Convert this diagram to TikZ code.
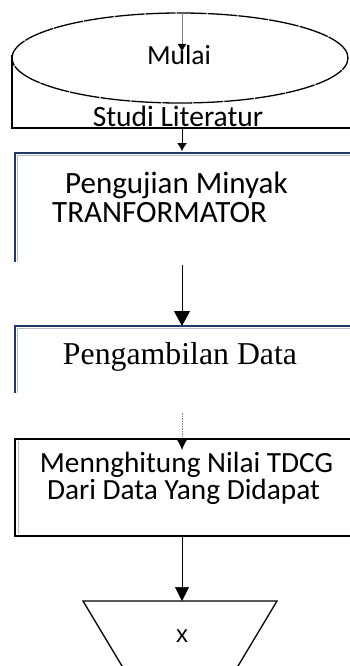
\documentclass[tikz,border=0pt]{standalone}
\usepackage{fontspec}
\setmainfont{Carlito}
\newfontfamily\timesf{Liberation Serif}
\newfontfamily\arialf{Liberation Sans}
\usetikzlibrary{shapes.geometric,arrows.meta}
\definecolor{navy}{HTML}{1F3864}
\definecolor{inner}{HTML}{B4BCC8}
\tikzset{
  frame/.style={line width=1.2pt,black},
  navyframe/.style={line width=2pt,navy},
  innerline/.style={line width=1pt,inner},
  lbl/.style={inner sep=0pt,anchor=base},
  conn/.style={line width=0.8pt,black,-{Triangle[length=15pt,width=16pt]}},
  small/.style={line width=1pt,-{Latex[length=8pt,width=10pt]}}
}
\begin{document}
\begin{tikzpicture}[x=1pt,y=-1pt]
\useasboundingbox (0,0) rectangle (349,666);
% Studi Literatur frame
\draw[frame] (12,55) -- (12,128) -- (352,128);
% ellipse
\node[ellipse,draw,line width=1.3pt,dash pattern=on 30pt off 1pt,fill=white,
      minimum width=336pt,minimum height=90pt,inner sep=0pt] (mulai) at (180,58) {};
\node[lbl,font=\fontsize{27.6}{30}\selectfont] (mulaitxt) at (179,65) {Mulai};
\coordinate (mtop) at (182,13);
\coordinate (mend) at (182,52);
\draw[draw=gray,line width=1pt,-{Latex[length=8pt,width=9pt,color=black]}] (mtop) -- (mend);
\node[lbl,font=\fontsize{29.5}{32}\selectfont] (studi) at (178,126) {Studi Literatur};
% Pengujian box
\draw[innerline] (17.5,262) -- (17.5,155.5) -- (352,155.5);
\draw[navyframe] (15,262) -- (15,153) -- (352,153);
\coordinate (studibot) at (182,128);
\coordinate (pengtop) at (182,151);
\draw[small] (studibot) -- (pengtop);
\node[lbl,anchor=base west,font=\fontsize{31}{34}\selectfont] (peng1) at (65,193) {Pengujian Minyak};
\node[lbl,anchor=base west,font=\fontsize{31}{34}\selectfont] (peng2) at (52,222) {TRANFORMATOR};
% arrow to Pengambilan Data
\coordinate (pengbot) at (182,265);
\coordinate (datatop) at (182,326);
\draw[conn] (pengbot) -- (datatop);
% Pengambilan box
\draw[innerline] (17.5,393) -- (17.5,328.5) -- (352,328.5);
\draw[navyframe] (15,393) -- (15,326) -- (352,326);
\node[lbl,font=\timesf\fontsize{31.8}{34}\selectfont] (data) at (180,364) {Pengambilan Data};
% dotted arrow
\coordinate (dstart) at (182,413);
\coordinate (tdcgtop) at (182,450);
\draw[gray,line width=1pt,dash pattern=on 1.5pt off 1pt] (dstart) -- (182,438);
\draw[line width=1pt,-{Latex[length=10pt,width=10pt]}] (182,438) -- (tdcgtop);
% TDCG box
\draw[line width=2.2pt,black] (352,439) -- (15,439) -- (15,536) -- (352,536);
\draw[innerline] (18.5,441) -- (18.5,534);
\node[lbl,font=\fontsize{29.3}{32}\selectfont] (tdcg1) at (186.5,472) {Mennghitung Nilai TDCG};
\node[lbl,font=\fontsize{29.3}{32}\selectfont] (tdcg2) at (183.5,499) {Dari Data Yang Didapat};
% arrow to trapezoid
\coordinate (tdcgbot) at (182,537);
\coordinate (traptop) at (182,601);
\draw[line width=0.7pt,-{Triangle[length=14pt,width=14pt]}] (tdcgbot) -- (traptop);
% trapezoid
\draw[line width=1.3pt,line join=miter] (129.8,679) -- (83,601) -- (277,601) -- (230.2,679);
\node[inner sep=0pt,font=\arialf\fontsize{24}{26}\selectfont] (x) at (182,636) {x};
\end{tikzpicture}
\end{document}
